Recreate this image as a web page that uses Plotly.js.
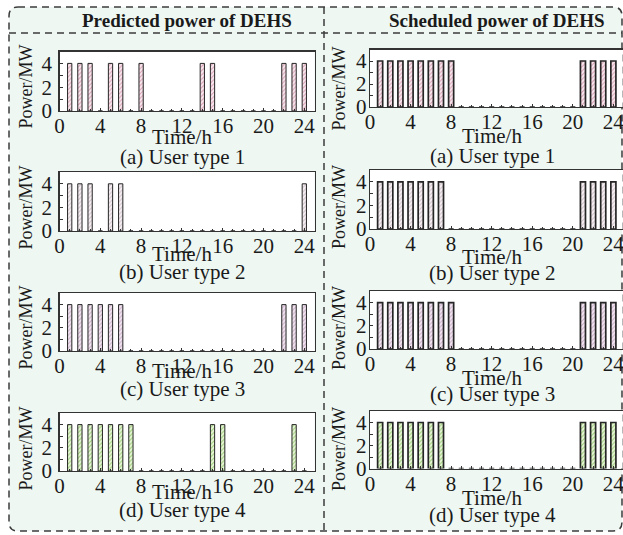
<!DOCTYPE html>
<html>
<head>
<meta charset="utf-8">
<script src="https://cdn.plot.ly/plotly-3.0.1.min.js"></script>
<style>html,body{margin:0;padding:0;background:#fff;}#chart{width:623px;height:535px;}</style>
</head>
<body>
<div id="chart"></div>
<script>
// ---- data ----
const hours = [1,2,3,4,5,6,7,8,9,10,11,12,13,14,15,16,17,18,19,20,21,22,23,24];
const predictedType1 = [4,4,4,0,4,4,0,4,0,0,0,0,0,4,4,0,0,0,0,0,0,4,4,4];
const predictedType2 = [4,4,4,0,4,4,0,0,0,0,0,0,0,0,0,0,0,0,0,0,0,0,0,4];
const predictedType3 = [4,4,4,4,4,4,0,0,0,0,0,0,0,0,0,0,0,0,0,0,0,4,4,4];
const predictedType4 = [4,4,4,4,4,4,4,0,0,0,0,0,0,0,4,4,0,0,0,0,0,0,4,0];
const scheduledType1 = [4,4,4,4,4,4,4,4,0,0,0,0,0,0,0,0,0,0,0,0,4,4,4,4];
const scheduledType2 = [4,4,4,4,4,4,4,0,0,0,0,0,0,0,0,0,0,0,0,0,4,4,4,4];
const scheduledType3 = [4,4,4,4,4,4,4,4,0,0,0,0,0,0,0,0,0,0,0,0,4,4,4,4];
const scheduledType4 = [4,4,4,4,4,4,4,0,0,0,0,0,0,0,0,0,0,0,0,0,4,4,4,4];
const xTickVals = [0,4,8,12,16,20,24];
const yTickVals = [0,2,4];
const headers = ['Predicted power of DEHS','Scheduled power of DEHS'];
const subtitles = ['(a) User type 1','(b) User type 2','(c) User type 3','(d) User type 4'];
const xTitle = 'Time/h';
const yTitle = 'Power/MW';

// ---- layout helpers ----
const W = 623, H = 535;
const px = v => v / W;
const py = v => 1 - v / H;
const FONT = 'Liberation Serif, Times New Roman, serif';

const styles = {
  pink:  {bg:'#f8e8ee', fg:'#d9a3b8'},
  pale:  {bg:'#f6f0f3', fg:'#d2c4cc'},
  lav:   {bg:'#f1e6f0', fg:'#cdb0cc'},
  green: {bg:'#e8f5d8', fg:'#9fd07c'}
};

const panels = [
  {y: predictedType1, st:'pink',  col:0, top:51.5, bot:111},
  {y: predictedType2, st:'pale',  col:0, top:172,  bot:231},
  {y: predictedType3, st:'lav',   col:0, top:293,  bot:351},
  {y: predictedType4, st:'green', col:0, top:413,  bot:471},
  {y: scheduledType1, st:'pink',  col:1, top:49.5, bot:107},
  {y: scheduledType2, st:'pale',  col:1, top:170,  bot:229},
  {y: scheduledType3, st:'lav',   col:1, top:291,  bot:349},
  {y: scheduledType4, st:'green', col:1, top:411,  bot:468.5}
];
const colX = [[59.5, 314.5],[370, 622.5]];

const traces = [];
const layout = {
  width: W, height: H,
  margin: {l:0, r:0, t:0, b:0},
  paper_bgcolor: '#ffffff',
  plot_bgcolor: '#ffffff',
  showlegend: false,
  bargap: 0,
  shapes: [],
  annotations: []
};

// background frame
const fx0 = 9, fy0 = 7, fx1 = 622, fy1 = 531, r = 9;
const framePath = (x0,y0,x1,y1,r) =>
  `M ${px(x0+r)},${py(y0)} L ${px(x1-r)},${py(y0)} Q ${px(x1)},${py(y0)} ${px(x1)},${py(y0+r)} ` +
  `L ${px(x1)},${py(y1-r)} Q ${px(x1)},${py(y1)} ${px(x1-r)},${py(y1)} L ${px(x0+r)},${py(y1)} ` +
  `Q ${px(x0)},${py(y1)} ${px(x0)},${py(y1-r)} L ${px(x0)},${py(y0+r)} Q ${px(x0)},${py(y0)} ${px(x0+r)},${py(y0)} Z`;
layout.shapes.push({type:'path', xref:'paper', yref:'paper', path: framePath(fx0,fy0,fx1,fy1,r),
  fillcolor:'#eef7f2', line:{color:'#3c3c3c', width:1.5, dash:'7px,5px'}, layer:'below'});
layout.shapes.push({type:'line', xref:'paper', yref:'paper', x0:px(fx0), x1:px(fx1), y0:py(33), y1:py(33),
  line:{color:'#3c3c3c', width:1.5, dash:'7px,5px'}, layer:'below'});
layout.shapes.push({type:'line', xref:'paper', yref:'paper', x0:px(324), x1:px(324), y0:py(fy0), y1:py(fy1),
  line:{color:'#3c3c3c', width:1.5, dash:'7px,5px'}, layer:'below'});

panels.forEach((p, i) => {
  const n = i + 1;
  const xa = n === 1 ? 'x' : 'x' + n;
  const ya = n === 1 ? 'y' : 'y' + n;
  const st = styles[p.st];
  const xd = [px(colX[p.col][0]), px(colX[p.col][1])];
  const yd = [py(p.bot), py(p.top)];
  // white plotting area
  layout.shapes.push({type:'rect', xref:'paper', yref:'paper', x0:xd[0], x1:xd[1], y0:yd[0], y1:yd[1],
    fillcolor:'#ffffff', line:{width:0}, layer:'below'});
  traces.push({
    type:'bar', x: hours, y: p.y, xaxis: xa, yaxis: ya,
    width: p.col === 0 ? 0.42 : 0.5,
    marker: {
      color: st.fg,
      pattern: {shape:'/', fgcolor: st.fg, bgcolor: st.bg, size: 3, solidity: 0.35},
      line: {color: '#262626', width: p.col === 0 ? 1 : 1.7}
    },
    hoverinfo:'skip'
  });
  const axBase = {
    showline:true, mirror:true, linecolor:'#333', linewidth:1.2,
    showgrid:false, zeroline:false, fixedrange:true,
    ticks:'inside', ticklen:3, tickwidth:1, tickcolor:'#333',
    tickfont:{family:FONT, size:21, color:'#1a1a1a'}
  };
  layout['xaxis' + (n===1?'':n)] = Object.assign({}, axBase, {
    domain: xd, anchor: ya, range:[0, p.col === 0 ? 25 : 24.9],
    tickvals: xTickVals, ticktext: xTickVals.map(String),
    ticklabelstandoff: -4, ticklabeloverflow: 'allow',
    minor:{dtick:1, tick0:0, ticks:'inside', ticklen:2.5, tickcolor:'#333', showgrid:false}
  });
  layout['yaxis' + (n===1?'':n)] = Object.assign({}, axBase, {
    domain: yd, anchor: xa, range:[0,5],
    tickvals: yTickVals, ticktext: yTickVals.map(String),
    ticklabelstandoff: p.col === 0 ? 2 : -2,
    minor:{dtick:1, tick0:0, ticks:'inside', ticklen:3, tickcolor:'#333', showgrid:false}
  });
});

// text annotations
const ann = (text, x, y, size, extra) => Object.assign({
  text, xref:'paper', yref:'paper', x:px(x), y:py(y), xanchor:'center', yanchor:'middle',
  showarrow:false, font:{family:FONT, size, color:'#1a1a1a'}
}, extra || {});
layout.annotations.push(ann('<b>' + headers[0] + '</b>', 187, 20, 19));
layout.annotations.push(ann('<b>' + headers[1] + '</b>', 497, 20, 19));

const leftTime = [137, 254, 371, 492], rightTime = [136, 256.7, 377.5, 497.5];
const leftSub = [157, 272, 389, 510], rightSub = [156, 273, 394, 515];
const leftPow = [87, 208, 328, 449], rightPow = [88.5, 207, 328, 449];
for (let k = 0; k < 4; k++) {
  layout.annotations.push(ann(xTitle, 182, leftTime[k], 21));
  layout.annotations.push(ann(xTitle, 492, rightTime[k], 21));
  layout.annotations.push(ann(subtitles[k], 182, leftSub[k], 21));
  layout.annotations.push(ann(subtitles[k], 492, rightSub[k], 21));
  layout.annotations.push(ann(yTitle, 25.5, leftPow[k], 18, {textangle:-90}));
  layout.annotations.push(ann(yTitle, 339, rightPow[k], 18, {textangle:-90}));
}

Plotly.newPlot('chart', traces, layout, {staticPlot:true, displayModeBar:false});
</script>
</body>
</html>
